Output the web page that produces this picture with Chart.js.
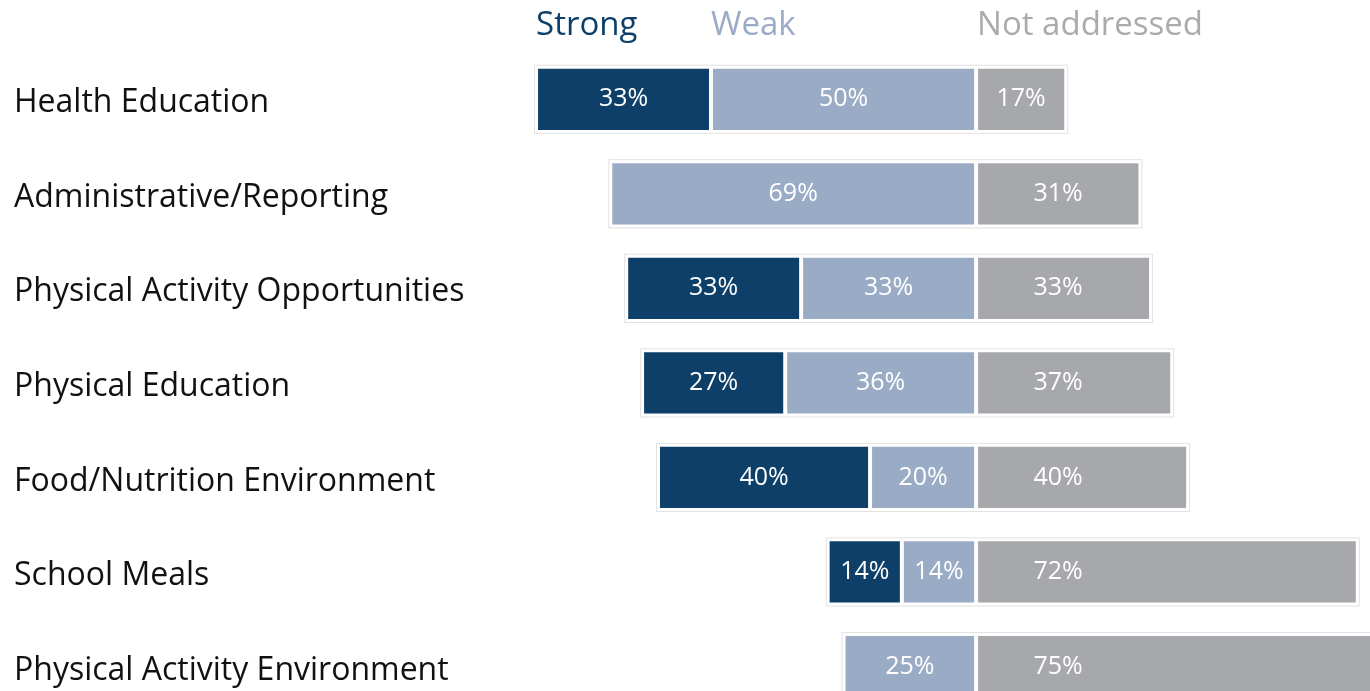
<!DOCTYPE html>
<html>
<head>
<meta charset="utf-8">
<script src="https://cdn.jsdelivr.net/npm/chart.js@4"></script>
<style>
  html, body { margin: 0; padding: 0; background: #fff; overflow: hidden; }
  canvas { display: block; }
</style>
</head>
<body>
<canvas id="myChart" width="1370" height="736"></canvas>
<script>
// categories and values (percent)
const categories = [
    'Health Education',
    'Administrative/Reporting',
    'Physical Activity Opportunities',
    'Physical Education',
    'Food/Nutrition Environment',
    'School Meals',
    'Physical Activity Environment'
];
const strong = [33, 0, 33, 27, 40, 14, 0];
const weak = [50, 69, 33, 36, 20, 14, 25];
const notAddressed = [17, 31, 33, 37, 40, 72, 75];

const colors = {
    strong: '#0d3f69',
    weak: '#9aabc6',
    not: '#a7a8ab',
    notText: '#ababab'
};

const FONT = '"Open Sans", "Noto Sans", sans-serif';

// faint outline round every row
const rowOutline = {
    id: 'rowOutline',
    beforeDatasetsDraw(chart) {
        const ctx = chart.ctx;
        const metas = chart.getSortedVisibleDatasetMetas();
        ctx.save();
        ctx.strokeStyle = '#e2e2e2';
        ctx.lineWidth = 1;
        categories.forEach((c, i) => {
            let left = Infinity, right = -Infinity, top = 0, bottom = 0;
            metas.forEach(m => {
                const el = m.data[i];
                if (!el || el.base === el.x) return;
                left = Math.min(left, el.x, el.base);
                right = Math.max(right, el.x, el.base);
                top = el.y - el.height / 2;
                bottom = el.y + el.height / 2;
            });
            if (left === Infinity) return;
            ctx.strokeRect(left - 1.5, top - 1.5, right - left + 3, bottom - top + 3);
        });
        ctx.restore();
    }
};

// value labels inside segments
const valueLabels = {
    id: 'valueLabels',
    afterDatasetsDraw(chart) {
        const ctx = chart.ctx;
        const zero = chart.scales.x.getPixelForValue(0);
        ctx.save();
        ctx.font = '25px ' + FONT;
        ctx.fillStyle = '#ffffff';
        ctx.textAlign = 'center';
        ctx.textBaseline = 'middle';
        chart.data.datasets.forEach((ds, di) => {
            const meta = chart.getDatasetMeta(di);
            meta.data.forEach((el, i) => {
                const v = Math.abs(ds.data[i]);
                if (!v) return;
                let x = (el.x + el.base) / 2;
                if (ds.label === 'Not addressed') x = Math.min(x, zero + 82);
                ctx.fillText(v + '%', x, el.y);
            });
        });
        ctx.restore();
    }
};

// legend text on top, lined up with the first row's segments
const topLegend = {
    id: 'topLegend',
    afterDraw(chart) {
        const ctx = chart.ctx;
        const x = chart.scales.x;
        ctx.save();
        ctx.font = '33px ' + FONT;
        ctx.textBaseline = 'middle';
        ctx.textAlign = 'left';
        ctx.fillStyle = colors.strong;
        ctx.fillText('Strong', x.getPixelForValue(-(strong[0] + weak[0])), 26);
        ctx.fillStyle = colors.weak;
        ctx.fillText('Weak', x.getPixelForValue(-weak[0]), 26);
        ctx.fillStyle = colors.notText;
        ctx.fillText('Not addressed', x.getPixelForValue(0) + 1, 26);
        ctx.restore();
    }
};

const data = {
    labels: categories,
    datasets: [
        {
            label: 'Weak',
            backgroundColor: colors.weak,
            data: weak.map(v => -v)
        },
        {
            label: 'Strong',
            backgroundColor: colors.strong,
            data: strong.map(v => -v)
        },
        {
            label: 'Not addressed',
            backgroundColor: colors.not,
            data: notAddressed
        }
    ]
};
data.datasets.forEach(ds => {
    ds.borderColor = '#ffffff';
    ds.borderWidth = 2;
    ds.borderSkipped = false;
    ds.categoryPercentage = 1;
    ds.barPercentage = 0.69;
});

const config = {
    type: 'bar',
    data: data,
    options: {
        indexAxis: 'y',
        responsive: false,
        animation: false,
        layout: { padding: { left: 14, right: 0, top: 52, bottom: 0 } },
        plugins: {
            legend: { display: false },
            tooltip: { enabled: false }
        },
        scales: {
            x: {
                stacked: true,
                min: -89.8,
                max: 74.3,
                display: false
            },
            y: {
                stacked: true,
                grid: { display: false },
                border: { display: false },
                ticks: {
                    crossAlign: 'far',
                    color: '#111111',
                    labelOffset: 4,
                    font: { family: FONT, size: 32 }
                },
                afterFit(scale) { scale.width = 486; }
            }
        }
    },
    plugins: [rowOutline, valueLabels, topLegend]
};

const myChart = new Chart(document.getElementById('myChart'), config);
</script>
</body>
</html>
